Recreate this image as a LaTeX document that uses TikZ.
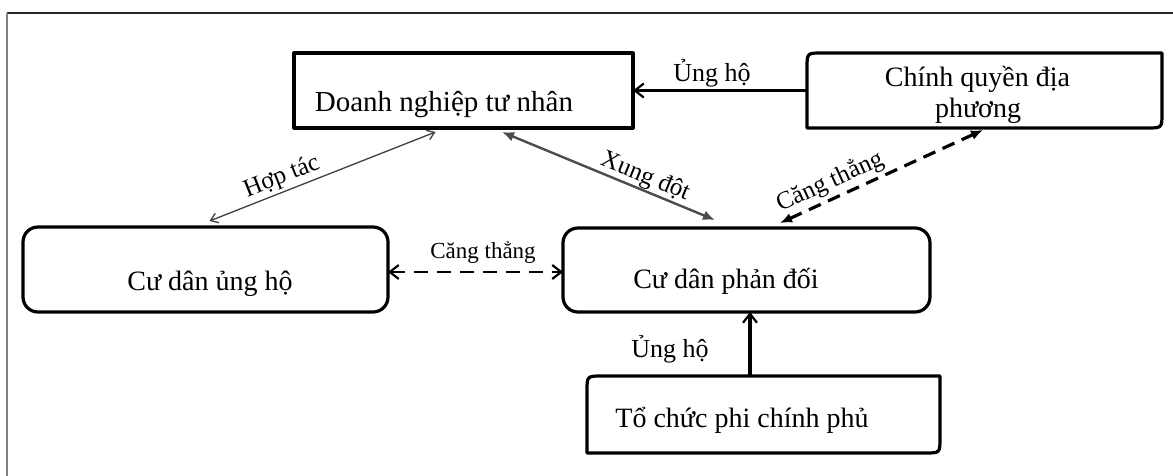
\documentclass[tikz,border=0pt]{standalone}
\usepackage{fontspec}
\setmainfont{Liberation Serif}
\usetikzlibrary{arrows.meta}
\begin{document}
\begin{tikzpicture}[x=1pt,y=-1pt,
  boxline/.style={line width=3.2pt, line join=round},
  anchorbox/.style={draw=none, inner sep=0pt, outer sep=0pt},
  boxtext/.style={font=\fontsize{28}{33}\selectfont, anchor=base, inner sep=0pt},
  lbl/.style={font=\fontsize{26}{30}\selectfont, anchor=base, inner sep=0pt},
  rlbl/.style={font=\fontsize{25}{29}\selectfont, anchor=center, inner sep=0pt},
  mybarb/.tip={Straight Barb[length=9pt,width=14pt,line width=2.2pt]},
  thinbarb/.tip={Straight Barb[length=7pt,width=10pt,line width=1.3pt]},
  mytri/.tip={Latex[length=12pt,width=10pt]},
]
\useasboundingbox (0,0) rectangle (1173,476);
\fill[white] (0,0) rectangle (1173,476);

% frame
\draw[line width=1.5pt, black!85] (7,13) -- (1173,13);
\draw[line width=2pt, gray] (7,13) -- (7,476);

% anchor boxes
\node[anchorbox, minimum width=339pt, minimum height=75pt] (dn) at (463.5,90.5) {};
\node[anchorbox, minimum width=355pt, minimum height=75pt] (cq) at (984.5,90.5) {};
\node[anchorbox, minimum width=365pt, minimum height=85pt] (cdu) at (205.5,269.5) {};
\node[anchorbox, minimum width=367pt, minimum height=84pt] (cdp) at (746.5,270) {};
\node[anchorbox, minimum width=353pt, minimum height=77pt] (tc) at (763.5,414.5) {};

% box outlines
\draw[boxline] (dn.north west) rectangle (dn.south east);
\draw[boxline] (cq.south west) -- ([shift={(0,15)}]cq.north west)
  .. controls (cq.north west) .. ([shift={(15,0)}]cq.north west)
  -- (cq.north east) -- ([shift={(0,-15)}]cq.south east)
  .. controls (cq.south east) .. ([shift={(-15,0)}]cq.south east) -- cycle;
\draw[boxline, rounded corners=15pt] (cdu.north west) rectangle (cdu.south east);
\draw[boxline, rounded corners=15pt] (cdp.north west) rectangle (cdp.south east);
\draw[boxline] (tc.south west) -- ([shift={(0,15)}]tc.north west)
  .. controls (tc.north west) .. ([shift={(15,0)}]tc.north west)
  -- (tc.north east) -- ([shift={(0,-15)}]tc.south east)
  .. controls (tc.south east) .. ([shift={(-15,0)}]tc.south east) -- cycle;

% box texts
\node[boxtext, font=\fontsize{29}{33}\selectfont] (tdn) at (444,112) {Doanh nghiệp tư nhân};
\node[boxtext] (tcq1) at (977.5,87) {Chính quyền địa};
\node[boxtext] (tcq2) at (978,118) {phương};
\node[boxtext] (tcdu) at (210,290) {Cư dân ủng hộ};
\node[boxtext] (tcdp) at (726,288) {Cư dân phản đối};
\node[boxtext] (ttc) at (742,427) {Tổ chức phi chính phủ};

% connectors
\draw[line width=2.2pt, -{mybarb}] (cq.west) -- (dn.east);
\draw[line width=1.3pt, black!75, {thinbarb}-{thinbarb}]
  ([shift={(4,-6)}]cdu.north) -- ([shift={(-28,4)}]dn.south);
\draw[line width=2.4pt, black!70, {mytri}-{mytri}]
  ([shift={(38.5,4)}]dn.south) -- ([shift={(-31.5,-8)}]cdp.north);
\draw[line width=3.2pt, dash pattern=on 13pt off 8pt, {mytri}-{mytri}]
  ([shift={(33.5,-5)}]cdp.north) -- ([shift={(-1.5,2)}]cq.south);
\draw[line width=2.8pt, dash pattern=on 14pt off 9pt, {mybarb}-{mybarb}]
  ([shift={(0,2.5)}]cdu.east) -- ([shift={(0,2)}]cdp.west);
\draw[line width=3.2pt, -{mybarb}]
  ([shift={(-13.5,0)}]tc.north) -- ([shift={(3.5,0)}]cdp.south);

% connector labels
\node[lbl] (l1) at (712,82) {Ủng hộ};
\node[rlbl, rotate=21.6] (l2) at (282,177) {Hợp tác};
\node[rlbl, rotate=-22.4] (l3) at (645,177) {Xung đột};
\node[rlbl, rotate=24.6] (l4) at (830,182) {Căng thẳng};
\node[lbl, font=\fontsize{23}{28}\selectfont] (l5) at (483,258) {Căng thẳng};
\node[lbl] (l6) at (670,357) {Ủng hộ};
\end{tikzpicture}
\end{document}
